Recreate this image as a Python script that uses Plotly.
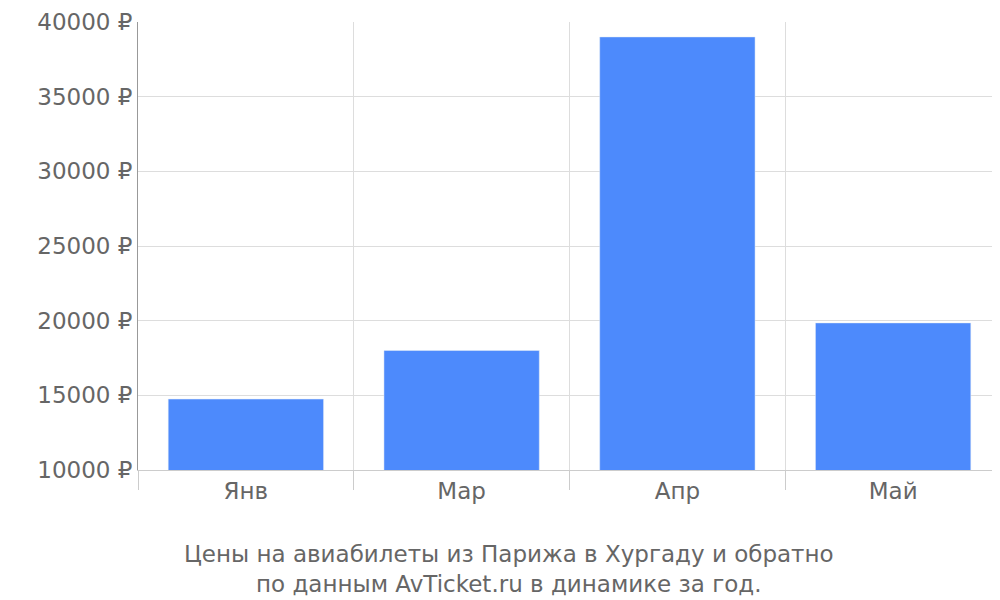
import plotly.graph_objects as go

months = ['Янв', 'Мар', 'Апр', 'Май']
prices = [14750, 18000, 39000, 19850]
positions = [0, 1, 2, 3]
y_ticks = [10000, 15000, 20000, 25000, 30000, 35000, 40000]
y_labels = [f'{v} ₽' for v in y_ticks]

grey = '#666666'

fig = go.Figure()
fig.add_trace(go.Bar(x=positions, y=prices, width=0.72, marker=dict(color='#4d8afc'),
                     hovertemplate='%{text}: %{y} ₽<extra></extra>', text=months,
                     textposition='none'))
# invisible trace to carry the boundary grid axis
fig.add_trace(go.Scatter(x=[-0.5, 3.5], y=[10000, 10000], xaxis='x2', mode='markers',
                         marker=dict(opacity=0), hoverinfo='skip', showlegend=False))

fig.update_layout(
    width=1000, height=600,
    margin=dict(l=130, r=7, t=14, b=138, autoexpand=False),
    plot_bgcolor='white', paper_bgcolor='white',
    showlegend=False,
    font=dict(family='DejaVu Sans', color=grey, size=24),
    xaxis=dict(range=[-0.5, 3.5], tickvals=positions, ticktext=months, showgrid=False,
               zeroline=False, ticks='', tickfont=dict(size=23, color=grey),
               showline=True, linecolor='#cccccc', automargin=False),
    xaxis2=dict(range=[-0.5, 3.5], overlaying='x', side='bottom',
                tickvals=[-0.5, 0.5, 1.5, 2.5, 3.5], showticklabels=False,
                showgrid=True, gridcolor='#dddddd', ticks='outside', ticklen=19,
                tickcolor='#cccccc', zeroline=False, automargin=False),
    yaxis=dict(range=[10000, 40000], tickvals=y_ticks, ticktext=y_labels, showgrid=True,
               gridcolor='#dddddd', zeroline=False, showline=True, linecolor='#999999',
               tickfont=dict(size=23, color=grey), automargin=False),
    annotations=[dict(text='Цены на авиабилеты из Парижа в Хургаду и обратно<br>'
                           'по данным AvTicket.ru в динамике за год.',
                      xref='paper', yref='paper', x=0.43, y=-0.155, yanchor='top',
                      showarrow=False, font=dict(size=23, color=grey))],
)

fig.write_html('out.html')
